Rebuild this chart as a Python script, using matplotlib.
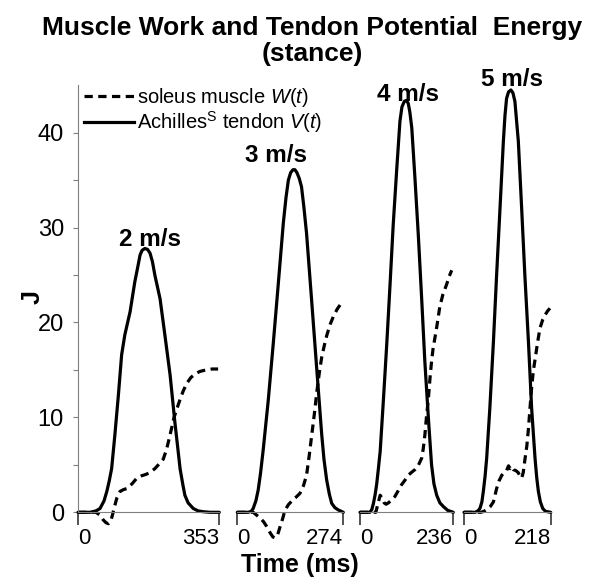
import matplotlib
matplotlib.use("Agg")
import matplotlib.pyplot as plt
from matplotlib.lines import Line2D

plt.rcParams['font.family'] = ['Liberation Sans', 'DejaVu Sans']
plt.rcParams['mathtext.fontset'] = 'custom'
plt.rcParams['mathtext.rm'] = 'Liberation Sans'
plt.rcParams['mathtext.it'] = 'Liberation Sans:italic'
plt.rcParams['mathtext.bf'] = 'Liberation Sans:bold'

# ---------------- data ----------------
speeds = ["2 m/s", "3 m/s", "4 m/s", "5 m/s"]
durations = [353, 274, 236, 218]

# Achilles tendon potential energy V(t) (solid)
t_tendon_2 = [0, 30, 45, 55, 65, 72, 78, 84, 92, 101, 109, 117, 124, 130, 142, 150, 155, 160, 167, 174,
              180, 186, 192, 205, 217, 230, 242, 250, 255, 262, 267, 275, 288, 300, 313, 330, 353]
v_tendon_2 = [0, 0, 0.15, 0.4, 1.2, 2.2, 3.3, 4.6, 8.1, 12.4, 16.6, 18.7, 20.0, 21.1, 24.3, 26.0, 27.1, 27.6,
              27.8, 27.7, 27.3, 26.4, 25.0, 22.5, 18.7, 14.5, 9.5, 6.5, 4.6, 2.9, 1.8, 1.0, 0.4, 0.15, 0.06, 0, 0]

t_tendon_3 = [0, 28, 36, 41, 48, 54, 60, 67, 80, 93, 106, 119, 126, 132, 138, 144, 149, 154, 160, 166,
              172, 179, 192, 205, 218, 224, 231, 238, 244, 252, 261, 274]
v_tendon_3 = [0, 0, 0.1, 0.4, 1.2, 2.35, 4.1, 6.6, 11.8, 17.8, 24.1, 30.5, 33.2, 35.0, 35.8, 36.1, 36.1,
              35.8, 35.2, 34.3, 32.2, 29.4, 22.4, 15.3, 8.3, 5.6, 3.4, 1.9, 0.95, 0.5, 0.25, 0]

t_tendon_4 = [0, 25, 30, 34, 38, 42, 46, 51, 59, 67.5, 76, 84, 93, 101, 106, 112, 117, 122, 126, 131,
              139, 147.5, 156, 164, 173, 181, 187, 194, 202, 211, 222, 236]
v_tendon_4 = [0, 0, 0.3, 0.95, 1.8, 2.9, 4.4, 6.4, 11.7, 17.6, 24.0, 30.3, 36.2, 41.2, 42.7, 43.3, 43.4,
              43.1, 42.2, 40.5, 35.2, 29.2, 22.5, 15.9, 9.9, 5.0, 3.0, 1.8, 1.0, 0.6, 0.2, 0]

t_tendon_5 = [0, 28, 35, 40, 45, 48.6, 53, 57, 65, 74, 82, 90.5, 99, 103, 107, 112, 118, 123, 128, 136.6,
              145, 153, 162, 170, 178.6, 183, 187, 192, 198, 205, 218]
v_tendon_5 = [0, 0, 0.15, 0.4, 1.1, 2.2, 3.8, 5.7, 11.0, 18.0, 25.0, 32.0, 39.1, 41.8, 43.6, 44.3, 44.5,
              44.2, 43.3, 39.1, 32.0, 25.0, 18.0, 11.0, 5.7, 3.6, 2.2, 1.1, 0.4, 0.1, 0]

# soleus muscle work W(t) (dashed)
t_muscle_2 = [0, 45, 55, 63, 70, 76, 82, 86, 90, 97, 105, 114, 122, 135, 147, 159, 170, 180, 192, 205,
              213, 221, 228, 234, 240, 247, 255, 263, 272, 282, 293, 305, 320, 335, 350]
w_muscle_2 = [0, 0, -0.3, -0.8, -1.1, -1.2, -0.9, -0.3, 0.4, 1.5, 2.2, 2.4, 2.5, 3.0, 3.6, 3.85, 4.0, 4.2,
              4.6, 5.2, 5.6, 6.6, 7.8, 8.9, 10.0, 10.9, 11.9, 12.8, 13.6, 14.2, 14.6, 14.85, 15.0, 15.1, 15.1]

t_muscle_3 = [0, 41, 50, 59, 68, 76, 84, 92, 98, 104, 110, 117, 123, 132, 141, 152, 162, 171, 179, 186,
              192, 199, 205, 212, 218, 225, 231, 240, 248, 258, 270]
w_muscle_3 = [0, 0, -0.3, -0.6, -1.0, -1.5, -2.1, -2.6, -2.7, -2.4, -1.6, -0.7, 0.2, 0.8, 1.2, 1.6, 2.0,
              2.8, 3.9, 6.0, 8.0, 10.3, 12.5, 14.7, 16.3, 17.6, 18.6, 19.8, 20.6, 21.4, 22.1]

t_muscle_4 = [0, 40, 46, 51, 56, 61, 66, 72, 80, 88, 97, 105, 114, 122, 130, 139, 147, 156, 160, 164,
              168, 173, 177, 181, 185, 190, 194, 202, 210, 219, 226, 232]
w_muscle_4 = [0, 0, 1.0, 1.8, 1.5, 1.0, 0.85, 1.0, 1.3, 1.65, 2.3, 2.9, 3.4, 3.9, 4.2, 4.5, 4.9, 5.7, 6.7,
              8.1, 10.0, 12.0, 14.1, 15.9, 17.3, 18.5, 19.5, 21.7, 23.0, 24.0, 24.9, 25.5]

t_muscle_5 = [0, 42, 50, 58, 66, 74, 82, 88, 95, 101, 107, 112, 116, 120, 124, 130, 136, 141, 145, 149,
              153, 158, 162, 166, 170, 174, 179, 185, 191, 198, 204, 210, 216]
w_muscle_5 = [0, 0, 0.1, 0.3, 0.6, 1.1, 2.5, 3.3, 3.9, 4.2, 4.4, 4.9, 4.6, 4.8, 4.5, 4.4, 4.2, 3.8, 3.6,
              4.2, 5.5, 7.0, 8.8, 11.0, 13.1, 14.8, 16.2, 17.9, 19.4, 20.3, 20.8, 21.2, 21.5]

# speed label anchor (time in ms, energy in J)
label_t = [180, 100, 121, 121]
label_y = [28.7, 37.6, 44.0, 45.6]

tendon_t = [t_tendon_2, t_tendon_3, t_tendon_4, t_tendon_5]
tendon_v = [v_tendon_2, v_tendon_3, v_tendon_4, v_tendon_5]
muscle_t = [t_muscle_2, t_muscle_3, t_muscle_4, t_muscle_5]
muscle_w = [w_muscle_2, w_muscle_3, w_muscle_4, w_muscle_5]

y_major = [0, 10, 20, 30, 40]
y_minor = [5, 15, 25, 35]
y_top = 45

# ---------------- layout ----------------
W, H = 595, 582
fig = plt.figure(figsize=(W / 100, H / 100), dpi=100)

panel_px = [(78, 219.3), (237.3, 343.3), (360, 453.3), (464, 550.7)]
ppu = 9.49          # pixels per J
y0_px = 512.3       # pixel row of J = 0
y_bottom = -4.0
ax_bottom_px = y0_px - y_bottom * ppu
ax_top_px = y0_px - y_top * ppu

gray = '#7f7f7f'
dash = (0, (2.6, 1.7))
lw = 2.3

axes = []
for i in range(4):
    x0, x1 = panel_px[i]
    ax = fig.add_axes([x0 / W, 1 - ax_bottom_px / H, (x1 - x0) / W, (ax_bottom_px - ax_top_px) / H])
    ax.set_xlim(0, durations[i])
    ax.set_ylim(y_bottom, y_top)
    ax.patch.set_visible(False)
    for s in ['top', 'right']:
        ax.spines[s].set_visible(False)
    ax.spines['bottom'].set_position(('data', 0))
    ax.spines['bottom'].set_color(gray)
    ax.spines['bottom'].set_linewidth(0.8)
    ax.set_xticks([0, durations[i]])
    ax.set_xticklabels(['0', str(durations[i])])
    ax.tick_params(axis='x', direction='out', length=9.5, width=1.2, color='#333333',
                   labelsize=16, pad=2)
    xl = ax.get_xticklabels()
    xl[0].set_ha('left')
    xl[1].set_ha('right')
    if i == 0:
        ax.spines['left'].set_bounds(0, y_top)
        ax.spines['left'].set_color(gray)
        ax.spines['left'].set_linewidth(0.8)
        ax.set_yticks(y_major)
        ax.set_yticks(y_minor, minor=True)
        ax.tick_params(axis='y', which='both', direction='out', length=3.6, width=0.8,
                       color=gray, labelsize=17, pad=6.5)
    else:
        ax.spines['left'].set_visible(False)
        ax.set_yticks([])

    ax.plot(tendon_t[i], tendon_v[i], color='black', lw=lw, solid_joinstyle='round',
            solid_capstyle='round', clip_on=False)
    ax.plot(muscle_t[i], muscle_w[i], color='black', lw=lw, linestyle=dash, clip_on=False)
    ax.text(label_t[i], label_y[i], speeds[i], ha='center', va='center',
            fontsize=17.5, fontweight='bold')
    axes.append(ax)

# legend
handles = [Line2D([], [], color='black', lw=lw, linestyle=dash),
           Line2D([], [], color='black', lw=lw)]
labels = [r'soleus muscle $\mathit{W(t)}$', r'Achilles$^{\mathrm{S}}$ tendon $\mathit{V(t)}$']
fig.legend(handles, labels, loc='upper left', bbox_to_anchor=(84 / W, 1 - 86 / H),
           frameon=False, fontsize=14.5, handlelength=2.5, handletextpad=0.15,
           borderaxespad=0, borderpad=0, labelspacing=0.0)

# titles and axis labels
fig.text(312 / W, 1 - 28 / H, 'Muscle Work and Tendon Potential  Energy', ha='center', va='center',
         fontsize=19, fontweight='bold')
fig.text(312 / W, 1 - 54 / H, '(stance)', ha='center', va='center', fontsize=19, fontweight='bold')
fig.text(33 / W, 1 - 297 / H, 'J', rotation=90, ha='center', va='center', fontsize=18, fontweight='bold')
fig.text(300 / W, 1 - 565 / H, 'Time (ms)', ha='center', va='center', fontsize=18, fontweight='bold')

fig.savefig('out.png', dpi=100)
